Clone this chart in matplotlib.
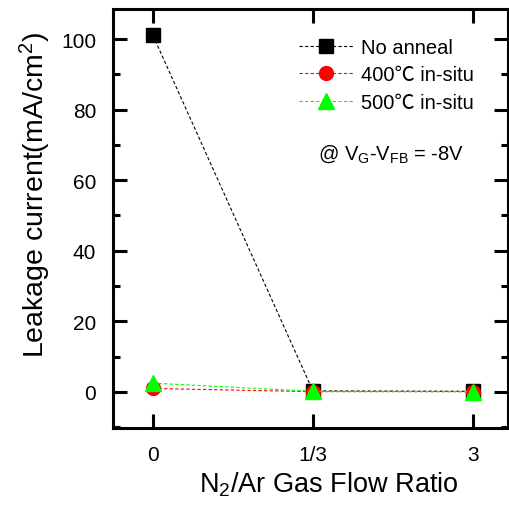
import matplotlib
matplotlib.use("Agg")
import matplotlib.pyplot as plt
from matplotlib.ticker import MultipleLocator

plt.rcParams['font.family'] = ['Liberation Sans', 'Noto Sans CJK SC', 'DejaVu Sans']
plt.rcParams['mathtext.fontset'] = 'custom'
plt.rcParams['mathtext.rm'] = 'Liberation Sans'
plt.rcParams['mathtext.it'] = 'Liberation Sans'

ratio_labels = ["0", "1/3", "3"]
no_anneal = [101.0, 0.3, 0.2]
insitu_400 = [1.0, 0.1, 0.1]
insitu_500 = [2.5, 0.2, 0.1]

x = list(range(len(ratio_labels)))

fig = plt.figure(figsize=(5.09, 5.06), dpi=100)
ax = fig.add_axes([113 / 509, 1 - 429 / 506, 395 / 509, 419 / 506])

ax.plot(x, no_anneal, color='black', ls='--', lw=0.8, marker='s', ms=10,
        dashes=(3, 2), label='No anneal')
ax.plot(x, insitu_400, color='red', ls='--', lw=0.8, marker='o', ms=10,
        dashes=(3, 2), label='400℃ in-situ')
ax.plot(x, insitu_500, color='#00ff00', ls='--', lw=0.8, marker='^', ms=11,
        dashes=(3, 2), label='500℃ in-situ')

ax.set_xlim(-0.25, 2.22)
ax.set_ylim(-10.2, 108.5)
ax.set_xticks(x)
ax.set_xticklabels(ratio_labels)
ax.yaxis.set_major_locator(MultipleLocator(20))
ax.yaxis.set_minor_locator(MultipleLocator(10))

for s in ax.spines.values():
    s.set_linewidth(2.2)
ax.tick_params(which='both', direction='in', top=True, right=True,
               labelsize=15, width=2.2)
ax.tick_params(axis='y', pad=12)
ax.tick_params(axis='x', pad=12)
ax.tick_params(which='major', length=10)
ax.tick_params(which='minor', length=5)

ax.set_ylabel('Leakage current(mA/cm$^2$)', fontsize=20.5)
ax.set_xlabel('N$_2$/Ar Gas Flow Ratio', fontsize=19.5)
ax.yaxis.set_label_coords(-0.197, 0.558)
ax.xaxis.set_label_coords(0.547, -0.134)
ax.xaxis.label.set_va('center')
ax.yaxis.label.set_va('center')

leg = ax.legend(loc='upper left', bbox_to_anchor=(0.45, 0.95), frameon=False,
                fontsize=14.5, handlelength=2.7, handletextpad=0.4,
                labelspacing=0.42, borderaxespad=0.0)

ax.text(0.705, 0.655, '@ V$_G$-V$_{FB}$ = -8V', transform=ax.transAxes,
        fontsize=14.5, ha='center', va='center')

fig.savefig('out.png', dpi=100)
